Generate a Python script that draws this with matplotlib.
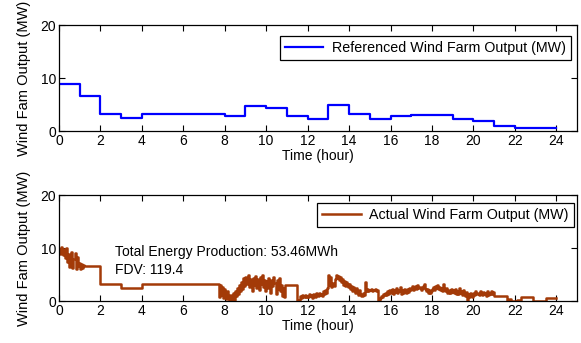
import numpy as np
import matplotlib.pyplot as plt

plt.rcParams["font.family"] = ["Liberation Sans", "DejaVu Sans"]

# referenced (scheduled) wind farm output, one value per hour
ref_hours = list(range(25))
ref_output = [8.9, 6.6, 3.3, 2.5, 3.3, 3.3, 3.3, 3.3, 2.9, 4.7, 4.3, 2.9,
              2.2, 4.9, 3.2, 2.2, 2.8, 3.0, 3.0, 2.2, 1.9, 1.0, 0.5, 0.5, 0.5]

# actual output, sampled every 3 minutes (0.05 h) in the fluctuating parts
dt = 0.05
act_start_1 = 0.0
act_noisy_1 = [9.8, 8.9, 10.2, 9.1, 8.6, 9.9, 8.2, 10.0, 7.4, 8.8, 6.5, 8.1,
               9.3, 6.2, 7.9, 9.0, 6.0, 8.4, 6.7, 7.2, 6.1, 6.9, 6.3, 6.8]
act_flat_1_t = [1.2, 2.0, 3.0, 4.0]
act_flat_1_v = [6.6, 3.3, 2.5, 3.3]

act_start_2 = 7.7
act_noisy_2 = [0.8, 3.0, 1.2, 2.6, 0.6, 2.2,
               1.4, 0.3, 1.9, 0.9, 0.1, 1.1, 0.0, 0.4, 1.6, 0.2,
               1.8, 1.0, 2.4, 1.3, 3.1, 1.9, 3.6, 2.2, 4.3, 2.9,
               4.6, 3.2, 4.9, 2.7, 4.1, 3.5, 1.9, 4.4, 3.0, 4.8,
               2.4, 4.2, 3.6, 2.0, 4.5, 3.3, 4.9, 2.6, 3.9, 1.8,
               3.7, 2.5, 4.4, 3.1, 1.6, 4.0, 2.8, 4.6, 3.4, 1.3,
               3.9, 2.2, 4.3, 1.8, 3.0, 0.9, 2.5, 0.8]
act_flat_2_t = [10.9]
act_flat_2_v = [3.0]

act_start_3 = 11.5
act_noisy_3 = [0.0, 0.1, 0.0, 0.9, 0.6, 1.1, 0.7, 1.2, 0.8, 1.0,
               0.7, 1.3, 0.9, 1.1, 0.6, 1.4, 1.0, 0.8, 1.5, 1.1,
               0.9, 1.6, 1.2, 1.4, 1.0, 1.8, 1.3, 2.1, 1.6, 2.4,
               4.9, 3.1, 4.5, 2.6, 3.4, 2.8, 4.2, 5.0, 4.4, 4.8,
               3.9, 4.6, 3.5, 4.1, 3.0, 3.8, 2.9, 3.6, 3.2, 2.7,
               3.3, 2.2, 2.9, 1.8, 2.6, 2.0, 1.5, 2.4, 1.7, 1.2,
               2.0, 1.4, 1.0, 1.6, 1.1, 3.5, 1.8, 2.3, 1.9, 2.1,
               2.0, 2.2, 1.9, 2.1, 2.0, 2.2, 1.9, 2.0, 0.0, 0.2,
               0.6, 1.0, 0.8, 1.3, 1.1, 1.6, 1.2, 1.8, 1.4, 2.0,
               1.6, 2.2, 1.4, 2.0, 1.7, 2.5, 1.5, 2.1, 1.8, 2.6,
               1.4, 2.0, 1.6, 2.3, 1.9, 1.5, 2.2, 1.7, 2.4, 2.0,
               2.3, 2.8, 2.1, 2.6, 2.9, 2.2, 3.0, 2.4, 2.7, 2.1,
               2.5, 2.9, 3.3, 2.3, 1.8, 2.2, 1.6, 2.0, 1.5, 1.9,
               2.2, 2.6, 2.0, 2.9, 2.4, 3.1, 2.2, 2.7, 2.0, 2.5,
               1.9, 3.3, 2.3, 1.8, 2.4, 1.6, 2.1, 1.5, 2.3, 1.7,
               2.0, 1.5, 2.2, 1.4, 1.9, 1.3, 2.4, 1.6, 1.8, 1.2,
               2.0, 1.4, 1.0, 1.7, 0.1, 1.3, 0.8, 1.6, 1.1, 0.7,
               1.5, 1.2, 1.8, 1.3, 1.6, 1.1, 1.9, 1.4, 1.2, 1.7,
               1.3, 1.5, 1.0, 1.8, 1.2, 1.6, 1.3, 1.9, 1.4, 1.7]
act_tail_t = [21.0, 21.6, 21.7, 21.8, 22.1, 22.3, 22.9, 23.5, 24.0]
act_tail_v = [1.0, 0.0, 0.4, 0.05, 0.2, 0.8, 0.05, 0.6, 0.6]

total_energy = 53.46
fdv = 119.4


def seg_times(start, vals):
    return start + dt * np.arange(len(vals))


act_t = np.concatenate([seg_times(act_start_1, act_noisy_1), act_flat_1_t,
                        seg_times(act_start_2, act_noisy_2), act_flat_2_t,
                        seg_times(act_start_3, act_noisy_3), act_tail_t])
act_v = np.concatenate([act_noisy_1, act_flat_1_v, act_noisy_2, act_flat_2_v,
                        act_noisy_3, act_tail_v])

fig = plt.figure(figsize=(5.81, 3.43), dpi=100)
ax1 = fig.add_axes([0.1015, 0.618, 0.8916, 0.309])
ax2 = fig.add_axes([0.1015, 0.1224, 0.8916, 0.309])

ax1.plot(ref_hours, ref_output, drawstyle="steps-post", color="#0000ff",
         lw=1.6, label="Referenced Wind Farm Output (MW)")
ax2.plot(act_t, act_v, drawstyle="steps-post", color="#a33a08",
         lw=1.8, label="Actual Wind Farm Output (MW)")

ax2.text(2.7, 9.2, f"Total Energy Production: {total_energy:.2f}MWh",
         fontsize=10, va="center")
ax2.text(2.7, 5.8, f"FDV: {fdv}", fontsize=10, va="center")

for ax, anchor in ((ax1, (0.988, 0.896)), (ax2, (0.994, 0.925))):
    ax.set_xlim(0, 25)
    ax.set_ylim(0, 20)
    ax.set_xticks(range(0, 25, 2))
    ax.set_yticks([0, 10, 20])
    ax.tick_params(direction="in", top=True, right=True, length=4,
                   labelsize=10, pad=2)
    for s in ax.spines.values():
        s.set_linewidth(0.9)
    ax.set_xlabel("Time (hour)", fontsize=10, labelpad=1)
    ax.set_ylabel("Wind Fam Output (MW)", fontsize=10.5, labelpad=7)
    leg = ax.legend(loc="upper right", bbox_to_anchor=anchor, fontsize=10.3,
                    fancybox=False, edgecolor="black", framealpha=1,
                    handlelength=2.7, handletextpad=0.6, borderpad=0.35,
                    borderaxespad=0)
    leg.get_frame().set_linewidth(0.9)

fig.savefig("out.png", dpi=100)
